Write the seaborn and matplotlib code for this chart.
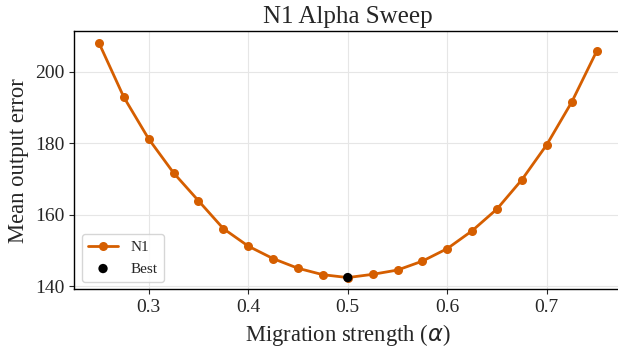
import numpy as np
import pandas as pd
import matplotlib
matplotlib.use('Agg')
import matplotlib.pyplot as plt
import seaborn as sns

# alpha sweep values
alpha = [0.25, 0.275, 0.3, 0.325, 0.35, 0.375, 0.4, 0.425, 0.45, 0.475, 0.5,
         0.525, 0.55, 0.575, 0.6, 0.625, 0.65, 0.675, 0.7, 0.725, 0.75]
error = [208.1, 192.9, 181.2, 171.7, 163.9, 156.1, 151.2, 147.7, 145.0, 143.2, 142.4,
         143.3, 144.5, 147.0, 150.5, 155.5, 161.6, 169.8, 179.6, 191.5, 205.7]
best_alpha = [0.5]
best_error = [142.4]

data = pd.DataFrame({'alpha': alpha, 'error': error})
best = pd.DataFrame({'alpha': best_alpha, 'error': best_error})

sns.set_style('ticks')
plt.rcParams['font.family'] = ['Liberation Serif', 'DejaVu Serif']
plt.rcParams['mathtext.fontset'] = 'dejavusans'

fig = plt.figure(figsize=(6.18, 3.49), dpi=100)
ax = fig.add_axes([74 / 618, 1 - 289.3 / 349, (621.5 - 74) / 618, (289.3 - 31) / 349])

sns.lineplot(data=data, x='alpha', y='error', ax=ax, color='#d55e00', marker='o',
             markersize=6.5, markeredgewidth=0, linewidth=2, label='N1', zorder=3)
sns.scatterplot(data=best, x='alpha', y='error', ax=ax, color='black', s=45,
                edgecolor='none', label='Best', zorder=4)

ax.grid(True, color='#e6e6e6', linewidth=0.8)
ax.set_axisbelow(True)
ax.set_yticks([140, 160, 180, 200])
ax.set_xticks([0.3, 0.4, 0.5, 0.6, 0.7])
ax.tick_params(labelsize=14)
for s in ax.spines.values():
    s.set_color('black')
    s.set_linewidth(1.0)
ax.spines['right'].set_visible(False)

ax.set_title('N1 Alpha Sweep', fontsize=18)
ax.set_xlabel(r'Migration strength ($\alpha$)', fontsize=16.3)
ax.set_ylabel('Mean output error', fontsize=16.3)
ax.legend(loc='lower left', fontsize=11, frameon=True)

fig.savefig('out.png', dpi=100)
